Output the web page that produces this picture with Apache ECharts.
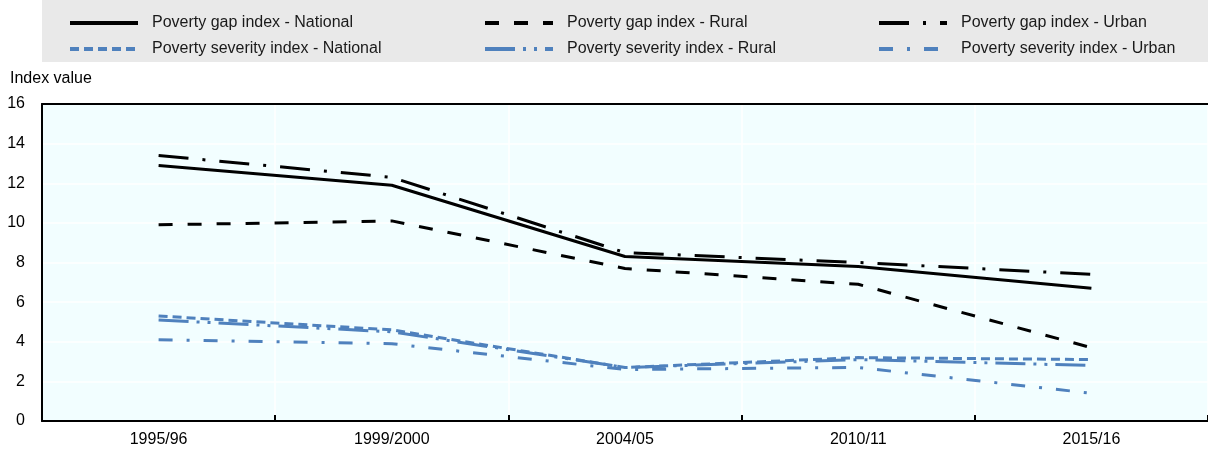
<!DOCTYPE html>
<html>
<head>
<meta charset="utf-8">
<script src="https://cdn.jsdelivr.net/npm/echarts@6/dist/echarts.min.js"></script>
<style>
html,body{margin:0;padding:0;background:#fff;}
#chart{width:1208px;height:454px;}
</style>
</head>
<body>
<div id="chart"></div>
<script>
const categories = ['1995/96', '1999/2000', '2004/05', '2010/11', '2015/16'];
const gapNational = [12.9, 11.9, 8.3, 7.8, 6.7];
const gapRural = [9.9, 10.1, 7.7, 6.9, 3.7];
const gapUrban = [13.4, 12.3, 8.5, 8.0, 7.4];
const sevNational = [5.3, 4.6, 2.7, 3.2, 3.1];
const sevRural = [5.1, 4.5, 2.7, 3.1, 2.8];
const sevUrban = [4.1, 3.9, 2.6, 2.7, 1.4];
const yTicks = [0, 2, 4, 6, 8, 10, 12, 14, 16];

const names = [
  'Poverty gap index - National', 'Poverty gap index - Rural', 'Poverty gap index - Urban',
  'Poverty severity index - National', 'Poverty severity index - Rural', 'Poverty severity index - Urban'
];
const BLACK = '#000000';
const BLUE = '#4f81bd';
const FONT = '"Liberation Sans", Arial, sans-serif';

function mk(name, data, color, type) {
  return {
    name: name, type: 'line', data: data, symbol: 'none', showSymbol: false,
    lineStyle: { color: color, width: 3, type: type, cap: 'butt', join: 'round' },
    itemStyle: { color: color },
    emphasis: { disabled: true }, animation: false
  };
}

const legendBase = {
  orient: 'vertical', itemWidth: 68, itemHeight: 16, itemGap: 10, padding: 0,
  textStyle: { fontFamily: FONT, fontSize: 16, color: '#1a1a1a', padding: [0, 0, 0, 9], lineHeight: 16 },
  itemStyle: { color: 'transparent', borderWidth: 0, opacity: 0 },
  lineStyle: { width: 4 },
  selectedMode: false
};

const chart = echarts.init(document.getElementById('chart'), null, { renderer: 'canvas' });
chart.setOption({
  animation: false,
  graphic: [
    { type: 'rect', left: 42, top: 0, shape: { width: 1166, height: 62 }, style: { fill: '#e9e9e9' }, z: -10, silent: true },
    { type: 'text', left: 10, top: 71, style: { text: 'Index value', font: '16px ' + FONT, fill: '#000' } }
  ],
  legend: [
    Object.assign({}, legendBase, { left: 68, top: 15, data: [names[0], names[3]] }),
    Object.assign({}, legendBase, { left: 483, top: 15, data: [names[1], names[4]] }),
    Object.assign({}, legendBase, { left: 877, top: 15, data: [names[2], names[5]] })
  ],
  grid: { left: 42, right: 0, top: 104, bottom: 33, show: true, backgroundColor: '#f2feff', borderWidth: 0, containLabel: false },
  xAxis: [
    {
      type: 'category', data: categories, boundaryGap: true,
      axisLine: { lineStyle: { color: '#000', width: 2 } },
      axisTick: { show: true, inside: true, length: 6, lineStyle: { color: '#000', width: 2 } },
      axisLabel: { fontFamily: FONT, fontSize: 16, color: '#000', margin: 11 },
      splitLine: { show: true, lineStyle: { color: '#ffffff', width: 1.5 } }
    },
    {
      type: 'category', data: categories, position: 'top',
      axisLine: { lineStyle: { color: '#000', width: 2 } },
      axisTick: { show: false }, axisLabel: { show: false }, splitLine: { show: false }
    }
  ],
  yAxis: {
    type: 'value', min: yTicks[0], max: yTicks[yTicks.length - 1], interval: 2,
    axisLine: { show: true, lineStyle: { color: '#000', width: 2 } },
    axisTick: { show: false },
    axisLabel: { fontFamily: FONT, fontSize: 16, color: '#000', margin: 17 },
    splitLine: { show: true, lineStyle: { color: '#ffffff', width: 1.5 } }
  },
  series: [
    mk(names[0], gapNational, BLACK, 'solid'),
    mk(names[1], gapRural, BLACK, [14, 15]),
    mk(names[2], gapUrban, BLACK, [30, 14, 3, 14]),
    mk(names[3], sevNational, BLUE, [9, 5]),
    mk(names[4], sevRural, BLUE, [30, 8, 3, 8, 3, 8]),
    mk(names[5], sevUrban, BLUE, [14, 14, 3, 14])
  ]
});
</script>
</body>
</html>
